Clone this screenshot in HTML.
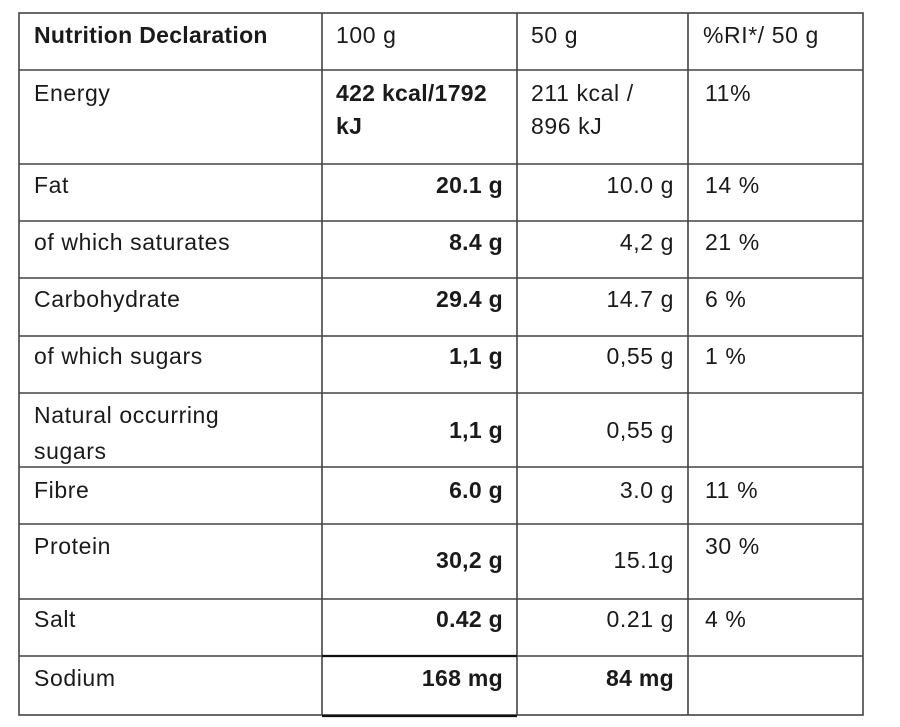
<!DOCTYPE html>
<html><head><meta charset="utf-8"><style>
html,body{margin:0;padding:0;background:#fff;}
svg{display:block;}
text{font-family:"Liberation Sans",sans-serif;font-size:23px;letter-spacing:0.6px;fill:#1a1a1a;}
.b{font-weight:bold;letter-spacing:0.3px;}
.r{text-anchor:end;}
</style></head><body>
<svg width="900" height="727" viewBox="0 0 900 727" xmlns="http://www.w3.org/2000/svg">
<g stroke="#444" stroke-width="1.6" fill="none">
<rect x="19" y="13" width="844" height="702"/>
<line x1="322" y1="13" x2="322" y2="715"/>
<line x1="517" y1="13" x2="517" y2="715"/>
<line x1="688" y1="13" x2="688" y2="715"/>
<line x1="19" y1="70" x2="863" y2="70"/>
<line x1="19" y1="164" x2="863" y2="164"/>
<line x1="19" y1="221" x2="863" y2="221"/>
<line x1="19" y1="278" x2="863" y2="278"/>
<line x1="19" y1="336" x2="863" y2="336"/>
<line x1="19" y1="393" x2="863" y2="393"/>
<line x1="19" y1="467" x2="863" y2="467"/>
<line x1="19" y1="524" x2="863" y2="524"/>
<line x1="19" y1="599" x2="863" y2="599"/>
<line x1="19" y1="656" x2="863" y2="656"/>
</g>
<line x1="322" y1="656" x2="517" y2="656" stroke="#111" stroke-width="2.2"/>
<line x1="322" y1="716" x2="517" y2="716" stroke="#111" stroke-width="2.2"/>

<text class="b" x="34" y="43">Nutrition Declaration</text>
<text x="336" y="43">100 g</text>
<text x="531" y="43">50 g</text>
<text x="703" y="43">%RI*/ 50 g</text>

<text x="34" y="101">Energy</text>
<text class="b" x="336" y="101">422 kcal/1792</text>
<text class="b" x="336" y="134">kJ</text>
<text x="531" y="101">211 kcal /</text>
<text x="531" y="134">896 kJ</text>
<text x="705" y="101">11%</text>

<text x="34" y="193">Fat</text>
<text class="b r" x="503" y="193">20.1 g</text>
<text class="r" x="674" y="193">10.0 g</text>
<text x="705" y="193">14 %</text>

<text x="34" y="250">of which saturates</text>
<text class="b r" x="503" y="250">8.4 g</text>
<text class="r" x="674" y="250">4,2 g</text>
<text x="705" y="250">21 %</text>

<text x="34" y="307">Carbohydrate</text>
<text class="b r" x="503" y="307">29.4 g</text>
<text class="r" x="674" y="307">14.7 g</text>
<text x="705" y="307">6 %</text>

<text x="34" y="364">of which sugars</text>
<text class="b r" x="503" y="364">1,1 g</text>
<text class="r" x="674" y="364">0,55 g</text>
<text x="705" y="364">1 %</text>

<text x="34" y="423">Natural occurring</text>
<text x="34" y="459">sugars</text>
<text class="b r" x="503" y="438">1,1 g</text>
<text class="r" x="674" y="438">0,55 g</text>

<text x="34" y="498">Fibre</text>
<text class="b r" x="503" y="498">6.0 g</text>
<text class="r" x="674" y="498">3.0 g</text>
<text x="705" y="498">11 %</text>

<text x="34" y="554">Protein</text>
<text class="b r" x="503" y="568">30,2 g</text>
<text class="r" x="674" y="568">15.1g</text>
<text x="705" y="554">30 %</text>

<text x="34" y="627">Salt</text>
<text class="b r" x="503" y="627">0.42 g</text>
<text class="r" x="674" y="627">0.21 g</text>
<text x="705" y="627">4 %</text>

<text x="34" y="686">Sodium</text>
<text class="b r" x="503" y="686">168 mg</text>
<text class="b r" x="674" y="686">84 mg</text>
</svg>
</body></html>
